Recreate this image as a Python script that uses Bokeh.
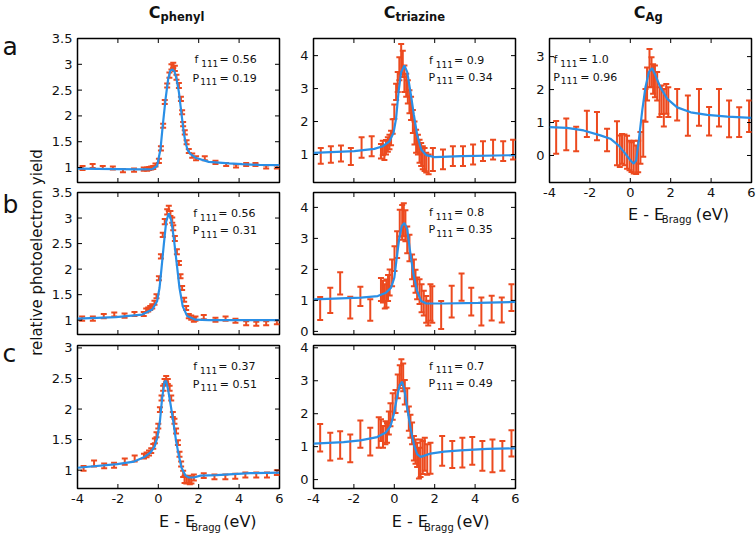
import math
from bokeh.plotting import figure
from bokeh.layouts import row, column
from bokeh.models import Range1d, LinearAxis, FixedTicker, Label, ColumnDataSource, Spacer
from bokeh.embed import file_html
from bokeh.resources import INLINE

FONT = "DejaVu Sans"
BAR_COLOR = "#EC4A1F"
FIT_COLOR = "#2A8FE6"
TXT = "#111111"

X_TICKS = [-4, -2, 0, 2, 4, 6]
X_TICK_LABELS = ["-4", "-2", "0", "2", "4", "6"]

COL_TITLES = [("C", "phenyl"), ("C", "triazine"), ("C", "Ag")]
ROW_LETTERS = ["a", "b", "c"]
Y_LABEL = "relative photoelectron yield"
X_LABEL = ("E - E", "Bragg", "(eV)")

# ---------------- C phenyl, row a ----------------
A_PH_X = [-3.75, -3.25, -2.75, -2.25, -1.75, -1.2, -0.72, -0.55, -0.45, -0.35, -0.25, -0.14, 0.03, 0.13,
          0.24, 0.32, 0.44, 0.55, 0.65, 0.74, 0.82, 0.9, 1.02, 1.12, 1.18, 1.23, 1.31, 1.4, 1.51, 1.68,
          1.87, 2.3, 2.83, 3.36, 3.85, 4.35, 4.81, 5.34, 5.87]
A_PH_Y = [0.99, 1.03, 1.0, 0.99, 0.94, 0.95, 0.97, 0.97, 0.98, 0.99, 1.0, 1.05, 1.13, 1.37,
          1.81, 2.27, 2.59, 2.79, 2.95, 2.98, 2.92, 2.75, 2.59, 2.33, 2.07, 1.84, 1.68, 1.49, 1.32, 1.23,
          1.18, 1.18, 1.1, 1.06, 1.03, 1.06, 1.06, 1.01, 1.01]
A_PH_ERR = [0.04, 0.04, 0.03, 0.03, 0.03, 0.03, 0.03, 0.03, 0.03, 0.03, 0.03, 0.03, 0.04, 0.04,
            0.04, 0.04, 0.04, 0.05, 0.05, 0.05, 0.05, 0.05, 0.05, 0.04, 0.04, 0.04, 0.04, 0.04, 0.04, 0.04,
            0.04, 0.04, 0.03, 0.03, 0.03, 0.03, 0.03, 0.03, 0.03]
A_PH_FIT_X = [-4, -2, -1, -0.3, -0.06, 0.11, 0.22, 0.36, 0.49, 0.6, 0.7, 0.8, 0.9, 1.02, 1.1, 1.18,
              1.26, 1.35, 1.45, 1.6, 1.84, 2.5, 3.5, 4.15, 5, 6]
A_PH_FIT_Y = [0.98, 0.97, 0.965, 0.97, 1.03, 1.36, 1.81, 2.33, 2.72, 2.88, 2.9, 2.86, 2.72, 2.46, 2.2, 1.94,
              1.68, 1.48, 1.34, 1.26, 1.19, 1.11, 1.08, 1.065, 1.05, 1.045]

# ---------------- C phenyl, row b ----------------
B_PH_X = [-3.77, -3.24, -2.70, -2.18, -1.67, -1.18, -0.72, -0.6, -0.5, -0.4, -0.3, -0.19, -0.09, 0.03,
          0.13, 0.22, 0.32, 0.44, 0.52, 0.6, 0.69, 0.74, 0.82, 0.92, 1.02, 1.1, 1.18, 1.28, 1.38, 1.51,
          1.63, 1.76, 1.84, 2.25, 2.83, 3.33, 3.82, 4.35, 4.85, 5.34, 5.87]
B_PH_Y = [1.03, 1.03, 1.08, 1.11, 1.09, 1.12, 1.12, 1.19, 1.21, 1.24, 1.27, 1.34, 1.47, 1.82,
          2.25, 2.67, 2.93, 3.12, 3.19, 3.09, 2.96, 2.81, 2.6, 2.34, 2.12, 1.86, 1.63, 1.4, 1.24, 1.08,
          1.05, 1.01, 1.03, 1.06, 1.01, 1.03, 0.99, 0.94, 0.93, 0.94, 0.96]
B_PH_ERR = [0.04, 0.04, 0.04, 0.04, 0.04, 0.04, 0.04, 0.04, 0.04, 0.04, 0.04, 0.04, 0.04, 0.04,
            0.04, 0.04, 0.05, 0.05, 0.05, 0.05, 0.05, 0.05, 0.05, 0.05, 0.04, 0.04, 0.04, 0.04, 0.04, 0.04,
            0.04, 0.04, 0.04, 0.04, 0.04, 0.04, 0.04, 0.04, 0.04, 0.04, 0.04]
B_PH_FIT_X = [-4, -2.1, -0.8, -0.3, -0.06, 0.06, 0.16, 0.27, 0.39, 0.52, 0.64, 0.77, 0.9, 1.05, 1.21,
              1.43, 1.84, 2.5, 6]
B_PH_FIT_Y = [1.03, 1.06, 1.11, 1.21, 1.37, 1.63, 2.02, 2.47, 2.93, 3.09, 2.96, 2.6, 2.15, 1.63, 1.27,
              1.08, 1.01, 1.0, 1.0]

# ---------------- C phenyl, row c ----------------
C_PH_X = [-3.70, -3.18, -2.68, -2.19, -1.66, -1.17, -0.71, -0.58, -0.46, -0.35, -0.25, -0.17, -0.09, 0.0,
          0.08, 0.16, 0.24, 0.31, 0.39, 0.47, 0.56, 0.64, 0.72, 0.8, 0.88, 0.97, 1.05, 1.13, 1.23, 1.3,
          1.39, 1.48, 1.56, 1.64, 1.76, 2.25, 2.78, 3.32, 3.81, 4.31, 4.85, 5.38, 5.87]
C_PH_Y = [1.03, 1.11, 1.07, 1.08, 1.14, 1.19, 1.23, 1.25, 1.28, 1.32, 1.39, 1.48, 1.58, 1.72,
          1.99, 2.18, 2.34, 2.45, 2.49, 2.45, 2.34, 2.18, 1.91, 1.8, 1.64, 1.45, 1.26, 1.1, 0.94, 0.85,
          0.84, 0.85, 0.83, 0.84, 0.88, 0.91, 0.89, 0.89, 0.9, 0.92, 0.92, 0.92, 0.96]
C_PH_ERR = [0.04, 0.05, 0.04, 0.04, 0.05, 0.05, 0.04, 0.04, 0.04, 0.04, 0.04, 0.04, 0.04, 0.04,
            0.04, 0.04, 0.04, 0.04, 0.05, 0.04, 0.04, 0.04, 0.04, 0.04, 0.04, 0.04, 0.04, 0.04, 0.05, 0.06,
            0.06, 0.06, 0.06, 0.06, 0.05, 0.04, 0.04, 0.04, 0.04, 0.04, 0.04, 0.04, 0.04]
C_PH_FIT_X = [-4, -2.03, -1.2, -0.71, -0.38, -0.18, -0.05, 0.08, 0.19, 0.31, 0.39, 0.49, 0.61, 0.74,
              0.88, 1.02, 1.15, 1.35, 1.51, 1.76, 2.09, 2.9, 4.55, 6]
C_PH_FIT_Y = [1.04, 1.1, 1.14, 1.21, 1.29, 1.39, 1.53, 1.8, 2.18, 2.45, 2.46, 2.31, 2.07, 1.8,
              1.48, 1.23, 1.04, 0.91, 0.88, 0.88, 0.91, 0.92, 0.95, 0.96]

# ---------------- C triazine, row a ----------------
A_TR_X = [-3.64, -3.14, -2.64, -2.15, -1.62, -1.12, -0.66, -0.57, -0.49, -0.41, -0.32, -0.24, -0.16, -0.08,
          0.0, 0.09, 0.17, 0.25, 0.34, 0.42, 0.5, 0.59, 0.67, 0.75, 0.83, 0.92, 1.0, 1.08, 1.17, 1.25,
          1.33, 1.41, 1.5, 1.58, 1.7, 1.91, 2.41, 2.9, 3.4, 3.9, 4.39, 4.89, 5.39, 5.88]
A_TR_Y = [0.96, 1.0, 1.03, 0.94, 1.21, 1.25, 1.1, 1.2, 1.05, 1.22, 1.3, 1.38, 1.5, 1.85,
          2.3, 2.9, 3.2, 3.6, 3.9, 3.75, 3.3, 3.1, 2.9, 2.6, 2.4, 2.0, 1.65, 1.4, 1.3, 1.1,
          1.0, 0.9, 0.85, 0.75, 0.7, 0.85, 0.85, 0.95, 0.95, 1.0, 1.1, 1.15, 1.1, 1.15]
A_TR_ERR = [0.24, 0.25, 0.24, 0.26, 0.31, 0.3, 0.22, 0.22, 0.22, 0.22, 0.22, 0.22, 0.22, 0.22,
            0.22, 0.25, 0.3, 0.35, 0.45, 0.4, 0.4, 0.35, 0.35, 0.35, 0.35, 0.35, 0.35, 0.35, 0.3, 0.35,
            0.35, 0.35, 0.35, 0.3, 0.3, 0.35, 0.3, 0.3, 0.3, 0.3, 0.3, 0.3, 0.3, 0.3]
A_TR_FIT_X = [-4, -1.98, -0.99, -0.57, -0.24, -0.04, 0.09, 0.21, 0.34, 0.5, 0.64, 0.8, 0.97, 1.13, 1.33,
              1.58, 1.99, 3.32, 6]
A_TR_FIT_Y = [1.05, 1.1, 1.17, 1.25, 1.4, 1.65, 2.1, 2.9, 3.5, 3.7, 3.5, 2.9, 2.2, 1.6, 1.15,
              0.98, 0.92, 0.95, 0.98]

# ---------------- C triazine, row b ----------------
B_TR_X = [-3.67, -3.17, -2.68, -2.18, -1.68, -1.19, -0.66, -0.56, -0.47, -0.39, -0.31, -0.23, -0.11, 0.01,
          0.14, 0.27, 0.39, 0.47, 0.55, 0.64, 0.75, 0.88, 0.97, 1.05, 1.13, 1.25, 1.35, 1.46, 1.58, 1.68,
          1.79, 1.88, 2.32, 2.84, 3.33, 3.81, 4.31, 4.82, 5.32, 5.8]
B_TR_Y = [0.74, 1.0, 1.55, 0.77, 1.13, 0.69, 1.35, 1.28, 1.13, 1.22, 1.4, 1.58, 1.89, 2.35,
          2.8, 3.49, 3.52, 3.6, 3.41, 2.95, 2.69, 2.08, 1.89, 1.62, 1.39, 1.28, 1.07, 0.91, 0.71, 0.59,
          0.93, 0.87, 0.53, 0.96, 1.43, 0.96, 0.64, 0.75, 0.69, 1.09]
B_TR_ERR = [0.37, 0.41, 0.36, 0.35, 0.31, 0.35, 0.37, 0.35, 0.39, 0.45, 0.42, 0.42, 0.43, 0.4,
            0.43, 0.43, 0.56, 0.53, 0.5, 0.43, 0.43, 0.4, 0.43, 0.37, 0.35, 0.4, 0.45, 0.4, 0.43, 0.4,
            0.59, 0.59, 0.45, 0.51, 0.44, 0.45, 0.45, 0.4, 0.4, 0.43]
B_TR_FIT_X = [-4, -1.65, -0.82, -0.41, -0.16, 0.0, 0.14, 0.25, 0.37, 0.5, 0.64, 0.78, 0.95, 1.13, 1.33,
              1.58, 2.49, 4.15, 6]
B_TR_FIT_Y = [1.03, 1.09, 1.14, 1.25, 1.41, 1.73, 2.48, 3.02, 3.4, 3.5, 3.29, 2.59, 1.84, 1.3, 0.98,
              0.9, 0.9, 0.92, 0.95]

# ---------------- C triazine, row c ----------------
C_TR_X = [-3.67, -3.17, -2.68, -2.18, -1.68, -1.19, -0.77, -0.66, -0.56, -0.44, -0.36, -0.27, -0.19, -0.08,
          0.06, 0.17, 0.27, 0.35, 0.44, 0.52, 0.64, 0.72, 0.8, 0.88, 0.97, 1.05, 1.13, 1.22, 1.3, 1.41,
          1.51, 1.63, 1.79, 2.37, 2.87, 3.37, 3.86, 4.36, 4.86, 5.35, 5.8]
C_TR_Y = [1.27, 1.0, 1.05, 0.95, 1.38, 1.15, 1.43, 1.5, 1.3, 1.42, 1.42, 1.72, 1.97, 2.22,
          2.37, 2.83, 3.12, 3.26, 3.1, 2.65, 2.42, 1.85, 1.62, 1.4, 0.95, 0.85, 0.75, 0.5, 0.65, 0.67,
          0.77, 0.61, 0.65, 0.87, 0.76, 0.82, 0.87, 0.72, 0.72, 0.72, 1.1]
C_TR_ERR = [0.42, 0.42, 0.42, 0.42, 0.41, 0.42, 0.46, 0.33, 0.33, 0.35, 0.3, 0.35, 0.35, 0.4,
            0.35, 0.36, 0.35, 0.39, 0.42, 0.37, 0.35, 0.37, 0.35, 0.33, 0.37, 0.37, 0.37, 0.47, 0.57, 0.5,
            0.5, 0.46, 0.47, 0.45, 0.41, 0.45, 0.42, 0.45, 0.5, 0.45, 0.4]
C_TR_FIT_X = [-4, -2.51, -1.68, -0.85, -0.44, -0.19, -0.03, 0.14, 0.27, 0.39, 0.5, 0.64, 0.8, 0.97, 1.13,
              1.3, 1.46, 1.79, 2.46, 3.28, 4.6, 6]
C_TR_FIT_Y = [1.09, 1.14, 1.19, 1.29, 1.42, 1.62, 1.97, 2.52, 2.87, 2.97, 2.72, 2.17, 1.57, 1.07, 0.77,
              0.69, 0.72, 0.79, 0.85, 0.89, 0.93, 0.95]

# ---------------- C Ag, row a ----------------
A_AG_X = [-3.67, -3.17, -2.68, -2.15, -1.65, -1.15, -0.66, -0.52, -0.41, -0.29, -0.16, -0.04, 0.06, 0.17,
          0.29, 0.39, 0.5, 0.64, 0.75, 0.83, 0.95, 1.05, 1.13, 1.22, 1.33, 1.45, 1.55, 1.66, 1.78, 1.88,
          2.32, 2.85, 3.4, 3.9, 4.39, 4.89, 5.39, 5.88]
A_AG_Y = [0.55, 0.64, 0.5, 0.96, 0.89, 0.47, 0.37, 0.13, 0.2, 0.17, 0.1, 0.0, -0.05, -0.05,
          -0.13, -0.03, 0.23, 0.51, 1.52, 2.17, 2.65, 2.53, 2.32, 2.25, 2.1, 1.62, 1.69, 1.45, 1.72, 1.62,
          1.54, 1.21, 1.46, 1.04, 1.45, 1.11, 1.01, 1.19]
A_AG_ERR = [0.5, 0.48, 0.37, 0.4, 0.43, 0.34, 0.67, 0.48, 0.45, 0.47, 0.5, 0.45, 0.45, 0.5,
            0.43, 0.48, 0.48, 0.55, 0.5, 0.5, 0.58, 0.45, 0.45, 0.48, 0.43, 0.45, 0.43, 0.57, 0.45, 0.45,
            0.48, 0.61, 0.56, 0.43, 0.57, 0.56, 0.45, 0.48]
A_AG_FIT_X = [-4, -3.14, -2.31, -1.48, -0.99, -0.57, -0.24, 0.01, 0.17, 0.29, 0.42, 0.59, 0.75, 0.92,
              1.08, 1.25, 1.5, 1.83, 2.32, 2.99, 3.81, 4.81, 6]
A_AG_FIT_Y = [0.86, 0.84, 0.76, 0.61, 0.51, 0.3, 0.05, -0.15, -0.25, -0.15, 0.45, 1.36, 2.07, 2.53,
              2.65, 2.42, 2.05, 1.72, 1.46, 1.31, 1.23, 1.18, 1.14]

# fit parameters shown in each panel
F111 = {"a_ph": "0.56", "b_ph": "0.56", "c_ph": "0.37", "a_tr": "0.9", "b_tr": "0.8", "c_tr": "0.7", "a_ag": "1.0"}
P111 = {"a_ph": "0.19", "b_ph": "0.31", "c_ph": "0.51", "a_tr": "0.34", "b_tr": "0.35", "c_tr": "0.49", "a_ag": "0.96"}

# y ranges and ticks
Y_RANGE = {"a_ph": (0.71, 3.5), "b_ph": (0.72, 3.5), "c_ph": (0.7, 3.04),
           "a_tr": (0.15, 4.52), "b_tr": (-0.1, 4.48), "c_tr": (-0.27, 4.07), "a_ag": (-0.82, 3.55)}
Y_TICKS = {"a_ph": [1, 1.5, 2, 2.5, 3, 3.5], "b_ph": [1, 1.5, 2, 2.5, 3, 3.5], "c_ph": [1, 1.5, 2, 2.5, 3],
           "a_tr": [1, 2, 3, 4], "b_tr": [0, 1, 2, 3, 4], "c_tr": [0, 1, 2, 3, 4], "a_ag": [0, 1, 2, 3]}
Y_TICK_LABELS = {"a_ph": ["1", "1.5", "2", "2.5", "3", "3.5"], "b_ph": ["1", "1.5", "2", "2.5", "3", "3.5"],
                 "c_ph": ["1", "1.5", "2", "2.5", "3"], "a_tr": ["1", "2", "3", "4"],
                 "b_tr": ["0", "1", "2", "3", "4"], "c_tr": ["0", "1", "2", "3", "4"], "a_ag": ["0", "1", "2", "3"]}
# anchor (data coords) of the "f" line and the "P" line
ANNOT_POS = {"a_ph": ((1.79, 3.02), (1.69, 2.67)), "b_ph": ((1.73, 3.02), (1.71, 2.69)),
             "c_ph": ((1.73, 2.64), (1.71, 2.35)), "a_tr": ((1.72, 3.75), (1.69, 3.24)),
             "b_tr": ((1.72, 3.72), (1.69, 3.18)), "c_tr": ((1.72, 3.34), (1.69, 2.82)),
             "a_ag": ((-3.8, 2.81), (-3.82, 2.27))}

DATA = {
    "a_ph": (A_PH_X, A_PH_Y, A_PH_ERR, A_PH_FIT_X, A_PH_FIT_Y),
    "b_ph": (B_PH_X, B_PH_Y, B_PH_ERR, B_PH_FIT_X, B_PH_FIT_Y),
    "c_ph": (C_PH_X, C_PH_Y, C_PH_ERR, C_PH_FIT_X, C_PH_FIT_Y),
    "a_tr": (A_TR_X, A_TR_Y, A_TR_ERR, A_TR_FIT_X, A_TR_FIT_Y),
    "b_tr": (B_TR_X, B_TR_Y, B_TR_ERR, B_TR_FIT_X, B_TR_FIT_Y),
    "c_tr": (C_TR_X, C_TR_Y, C_TR_ERR, C_TR_FIT_X, C_TR_FIT_Y),
    "a_ag": (A_AG_X, A_AG_Y, A_AG_ERR, A_AG_FIT_X, A_AG_FIT_Y),
}


def label(p, x, y, s, size, bold=False, align="left", baseline="alphabetic", angle=0.0, dx=0, dy=0):
    # the SVG renderer sets alphabetic text about 0.3 em low; lift it back
    lift = 0.3 * size if (baseline == "alphabetic" and angle == 0.0) else 0.0
    p.add_layout(Label(x=x, y=y, text=s, text_font=FONT, text_font_size=f"{size}px",
                       text_font_style="bold" if bold else "normal", text_color=TXT,
                       text_align=align, text_baseline=baseline, angle=angle,
                       x_offset=dx, y_offset=dy + lift))


def style_axis(ax, standoff):
    ax.axis_line_color = None
    ax.major_tick_line_color = None
    ax.minor_tick_line_color = None
    ax.major_tick_in = 0
    ax.major_tick_out = 0
    ax.major_label_standoff = standoff
    ax.major_label_text_font = FONT
    ax.major_label_text_font_size = "13px"
    ax.major_label_text_color = TXT


def no_grid(p):
    for g in p.grid:
        g.visible = False


def make_panel(key, w, h, bl, br, bt, bb, show_x):
    xs, ys, errs, fx, fy = DATA[key]
    y0, y1 = Y_RANGE[key]
    yt = Y_TICKS[key]
    p = figure(width=w, height=h, x_range=Range1d(-4, 6), y_range=Range1d(y0, y1),
               x_axis_location=None, y_axis_location=None, toolbar_location=None,
               output_backend="svg", min_border_left=bl, min_border_right=br,
               min_border_top=bt, min_border_bottom=bb)
    no_grid(p)
    p.outline_line_color = "black"
    p.outline_line_width = 1.5
    p.outline_line_alpha = 1.0
    yax = LinearAxis(ticker=FixedTicker(ticks=yt),
                     major_label_overrides=dict(zip(yt, Y_TICK_LABELS[key])))
    style_axis(yax, 5)
    p.add_layout(yax, "left")
    if show_x:
        xax = LinearAxis(ticker=FixedTicker(ticks=X_TICKS),
                         major_label_overrides=dict(zip(X_TICKS, X_TICK_LABELS)))
        style_axis(xax, 5)
        p.add_layout(xax, "below")

    lo = [v - e for v, e in zip(ys, errs)]
    hi = [v + e for v, e in zip(ys, errs)]
    src = ColumnDataSource(dict(x=xs, lo=lo, hi=hi))
    p.segment(x0="x", y0="lo", x1="x", y1="hi", source=src, line_color=BAR_COLOR, line_width=2)
    p.scatter(x="x", y="lo", source=src, marker="dash", size=6, line_color=BAR_COLOR, line_width=2)
    p.scatter(x="x", y="hi", source=src, marker="dash", size=6, line_color=BAR_COLOR, line_width=2)
    p.line(fx, fy, line_color=FIT_COLOR, line_width=2.2)

    # inward ticks on all four sides (clipped by the frame)
    p.scatter(X_TICKS, [y1] * len(X_TICKS), marker="dash", angle=math.pi / 2, size=9,
              line_color="black", line_width=1)
    p.scatter(X_TICKS, [y0] * len(X_TICKS), marker="dash", angle=math.pi / 2, size=9,
              line_color="black", line_width=1)
    p.scatter([-4] * len(yt), yt, marker="dash", size=9, line_color="black", line_width=1)
    p.scatter([6] * len(yt), yt, marker="dash", size=9, line_color="black", line_width=1)

    (fxp, fyp), (pxp, pyp) = ANNOT_POS[key]
    label(p, fxp, fyp, "f", 11)
    label(p, fxp, fyp, "111", 9, dx=6.7, dy=-3)
    label(p, fxp, fyp, "= " + F111[key], 11, dx=25)
    label(p, pxp, pyp, "P", 11)
    label(p, pxp, pyp, "111", 9, dx=7.7, dy=-3)
    label(p, pxp, pyp, "= " + P111[key], 11, dx=27)
    return p


def blank(w, h, x0, x1, ytop, ybot):
    p = figure(width=w, height=h, x_range=Range1d(x0, x1), y_range=Range1d(-ybot, -ytop),
               x_axis_location=None, y_axis_location=None, toolbar_location=None,
               output_backend="svg", min_border=0,
               min_border_left=0, min_border_right=0, min_border_top=0, min_border_bottom=0)
    no_grid(p)
    p.outline_line_color = None
    return p


def xlabel(p, x_left, base):
    a, b, c = X_LABEL
    label(p, x_left, -base, a, 16)
    label(p, x_left + 38.3, -base, b, 10, dy=-3.5)
    label(p, x_left + 76.7, -base, c, 16)


# page is 756 x 533, laid out in the reference's own pixel coordinates
# ---------------- header with column titles ----------------
header = blank(756, 30, 0, 756, 0, 30)
for (big, small), cx in zip(COL_TITLES, [148.3, 383.3, 633.3]):
    label(header, cx, -16.7, big, 16, bold=True)
    label(header, cx + 11.7, -16.7, small, 11.5, bold=True, dy=-3.6)

# ---------------- left strip ----------------
left = blank(46, 503, 0, 46, 30, 533)
for letter, base in zip(ROW_LETTERS, [53.3, 211.7, 360.0]):
    label(left, 2, -base, letter, 25)
label(left, 36.0, -252.0, Y_LABEL, 15, align="center", baseline="middle", angle=math.pi / 2)

# ---------------- column 1 (canvas x 46..287, frame 77..279) ----------------
p1a = make_panel("a_ph", 241, 154, 31, 8, 8, 2, False)
p1b = make_panel("b_ph", 241, 155, 31, 8, 8, 5, False)
p1c = make_panel("c_ph", 241, 169, 31, 8, 6, 20, True)
xl1 = blank(241, 25, 46, 287, 508, 533)
xlabel(xl1, 143.3, 526.0)

# ---------------- column 2 (canvas x 287..527, frame 313..515) ----------------
p2a = make_panel("a_tr", 240, 154, 26, 12, 8, 2, False)
p2b = make_panel("b_tr", 240, 155, 26, 12, 8, 5, False)
p2c = make_panel("c_tr", 240, 169, 26, 12, 6, 20, True)
xl2 = blank(240, 25, 287, 527, 508, 533)
xlabel(xl2, 380.0, 526.0)

# ---------------- column 3 (canvas x 527..756, frame 549..751) ----------------
p3a = make_panel("a_ag", 229, 172, 22, 5, 8, 20, True)
xl3 = blank(229, 24, 527, 756, 202, 226)
xlabel(xl3, 616.0, 218.5)
sp3 = Spacer(width=229, height=307)

layout = column(
    header,
    row(left,
        column(p1a, p1b, p1c, xl1),
        column(p2a, p2b, p2c, xl2),
        column(p3a, xl3, sp3)),
)

open("out.html", "w").write(file_html(layout, INLINE))
